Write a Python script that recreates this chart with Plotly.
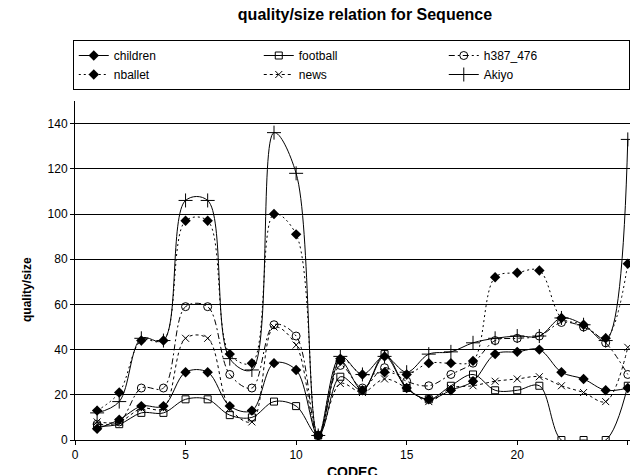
import plotly.graph_objects as go

# codec index on the x axis
codec = list(range(1, 26))

# quality/size per sequence
children = [5, 9, 15, 15, 30, 30, 15, 13, 34, 31, 2, 35, 22, 37, 23, 18, 22, 26, 38, 39, 40, 30, 27, 22, 23]
football = [6, 7, 12, 12, 18, 18, 11, 10, 17, 15, 2, 28, 22, 38, 23, 18, 24, 29, 22, 22, 24, 0, 0, 0, 24]
h387_476 = [7, 8, 23, 23, 59, 59, 29, 23, 51, 46, 2, 33, 23, 32, 26, 24, 29, 34, 44, 45, 46, 52, 50, 43, 29]
nballet = [13, 21, 44, 44, 97, 97, 38, 34, 100, 91, 2, 36, 29, 30, 29, 34, 34, 35, 72, 74, 75, 54, 51, 45, 78]
news = [8, 8, 14, 14, 45, 45, 14, 8, 50, 42, 2, 25, 21, 27, 23, 17, 23, 24, 26, 27, 28, 24, 21, 17, 41]
akiyo = [12, 17, 45, 44, 106, 106, 36, 31, 136, 118, 2, 37, 29, 37, 30, 38, 39, 43, 45, 46, 46, 54, 51, 44, 133]

y_ticks = [0, 20, 40, 60, 80, 100, 120, 140]
x_ticks = [0, 5, 10, 15, 20, 25]

FONT = "Liberation Sans, Arial, sans-serif"

series = [
    ("children", children, "solid", dict(symbol="diamond", size=8, color="black")),
    ("football", football, "solid", dict(symbol="square-open", size=7, color="black", line=dict(width=1))),
    ("h387_476", h387_476, "6px,3px,2px,3px", dict(symbol="circle-open", size=8, color="black", line=dict(width=1))),
    ("nballet", nballet, "2px,3px", dict(symbol="diamond", size=8, color="black")),
    ("news", news, "3px,3px", dict(symbol="x-thin-open", size=7, color="black", line=dict(width=1))),
    ("Akiyo", akiyo, "solid", dict(symbol="cross-thin-open", size=10, color="black", line=dict(width=1))),
]

fig = go.Figure()
for name, vals, dash, marker in series:
    fig.add_trace(go.Scatter(
        x=codec, y=vals, name=name, mode="lines+markers",
        line=dict(color="black", width=1, dash=dash, shape="spline"),
        marker=marker, cliponaxis=True,
    ))

fig.update_layout(
    width=633, height=475,
    margin=dict(l=75, r=3, t=101, b=35),
    paper_bgcolor="white", plot_bgcolor="white",
    font=dict(family=FONT, size=12, color="black"),
    title=dict(text="<b>quality/size relation for Sequence</b>",
               x=365 / 633, xanchor="center", y=1 - 14 / 475, yanchor="middle",
               font=dict(family=FONT, size=16, color="black")),
    showlegend=True,
    legend=dict(orientation="h", x=-0.004, xanchor="left", y=(440 - 40) / 339, yanchor="top",
                entrywidth=140, entrywidthmode="pixels",
                bordercolor="black", borderwidth=1, bgcolor="white",
                font=dict(family=FONT, size=12, color="black"),
                tracegroupgap=0),
    xaxis=dict(range=[0, 25.1], tickvals=x_ticks, showgrid=False, zeroline=False,
               showline=True, linecolor="black", linewidth=1,
               ticks="outside", ticklen=4, tickcolor="black",
               tickfont=dict(family=FONT, size=12)),
    yaxis=dict(range=[0, 150], tickvals=y_ticks, showgrid=True, gridcolor="black", gridwidth=1,
               zeroline=False, showline=True, linecolor="black", linewidth=1,
               ticks="outside", ticklen=4, tickcolor="black",
               tickfont=dict(family=FONT, size=12)),
    annotations=[
        dict(text="<b>quality/size</b>", xref="paper", yref="paper",
             x=(27 - 75) / 555, y=(440 - 290) / 339, textangle=-90,
             showarrow=False, xanchor="center", yanchor="middle",
             font=dict(family=FONT, size=12, color="black")),
        dict(text="<b>CODEC</b>", xref="paper", yref="paper",
             x=(352 - 75) / 555, y=(440 - 462) / 339, xanchor="center", yanchor="top",
             showarrow=False, font=dict(family=FONT, size=14, color="black")),
    ],
)

fig.write_html("out.html")
